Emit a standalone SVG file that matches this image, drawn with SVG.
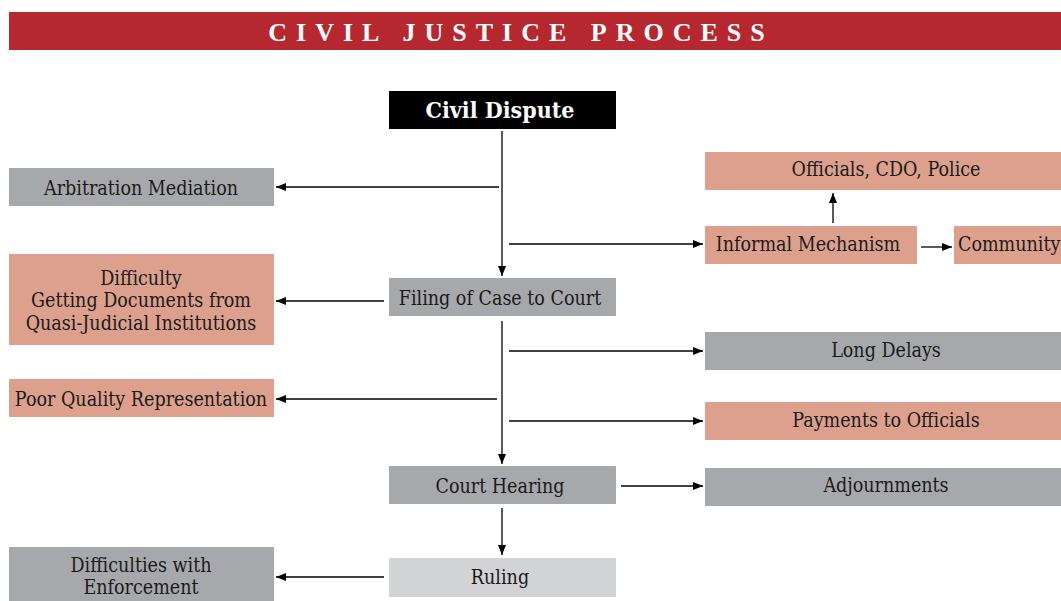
<svg xmlns="http://www.w3.org/2000/svg" width="1061" height="601" viewBox="0 0 1061 601">
  <defs>
    <marker id="arrow" viewBox="0 0 10 8" refX="10" refY="4" markerWidth="10" markerHeight="8" markerUnits="userSpaceOnUse" orient="auto">
      <path d="M0,0 L10,4 L0,8 Z" fill="#000"/>
    </marker>
    <style>
      .gray { fill: #a7a8ab; }
      .salmon { fill: #dda08d; }
      .light { fill: #d2d3d5; }
      .dark { fill: #000; }
      .lbl { font-family: "DejaVu Serif Condensed", "DejaVu Serif", "Liberation Serif", serif; font-stretch: condensed; font-size: 19.5px; fill: #1a1a1a; text-anchor: middle; }
      .conn line { stroke: #000; stroke-width: 1.3; marker-end: url(#arrow); }
    </style>
  </defs>

  <rect width="1061" height="601" fill="#fff"/>

  <!-- title banner -->
  <g id="title">
    <rect x="9" y="12" width="1052" height="38" fill="#b5282f"/>
    <text x="521" y="41" font-family="Liberation Serif, serif" font-size="26" font-weight="bold" fill="#fff" text-anchor="middle" letter-spacing="9">CIVIL JUSTICE PROCESS</text>
  </g>

  <!-- main chain -->
  <g id="civil-dispute">
    <rect class="dark" x="389" y="91" width="227" height="38"/>
    <text x="500" y="118" font-family="DejaVu Serif Condensed, DejaVu Serif, serif" font-stretch="condensed" font-size="23" font-weight="bold" fill="#fff" text-anchor="middle">Civil Dispute</text>
  </g>
  <g id="filing">
    <rect class="gray" x="389" y="278" width="227" height="38"/>
    <text class="lbl" x="500" y="305">Filing of Case to Court</text>
  </g>
  <g id="court-hearing">
    <rect class="gray" x="389" y="466" width="227" height="38"/>
    <text class="lbl" x="500" y="493">Court Hearing</text>
  </g>
  <g id="ruling">
    <rect class="light" x="389" y="558" width="227" height="39"/>
    <text class="lbl" x="500" y="584">Ruling</text>
  </g>

  <!-- left side -->
  <g id="arbitration">
    <rect class="gray" x="9" y="168" width="265" height="38"/>
    <text class="lbl" x="141" y="195">Arbitration Mediation</text>
  </g>
  <g id="difficulty-documents">
    <rect class="salmon" x="9" y="254" width="265" height="91"/>
    <text class="lbl" x="141" y="284.5">Difficulty</text>
    <text class="lbl" x="141" y="307">Getting Documents from</text>
    <text class="lbl" x="141" y="329.5">Quasi-Judicial Institutions</text>
  </g>
  <g id="poor-quality">
    <rect class="salmon" x="9" y="379" width="265" height="38"/>
    <text class="lbl" x="141" y="406">Poor Quality Representation</text>
  </g>
  <g id="enforcement">
    <rect class="gray" x="9" y="547" width="265" height="54"/>
    <text class="lbl" x="141" y="572">Difficulties with</text>
    <text class="lbl" x="141" y="594">Enforcement</text>
  </g>

  <!-- right side -->
  <g id="officials">
    <rect class="salmon" x="705" y="152" width="356" height="38"/>
    <text class="lbl" x="886" y="176">Officials, CDO, Police</text>
  </g>
  <g id="informal">
    <rect class="salmon" x="705" y="226" width="212" height="38"/>
    <text class="lbl" x="808" y="251">Informal Mechanism</text>
  </g>
  <g id="community">
    <rect class="salmon" x="954" y="226" width="107" height="38"/>
    <text class="lbl" x="958" y="251" style="text-anchor:start">Community</text>
  </g>
  <g id="long-delays">
    <rect class="gray" x="705" y="332" width="356" height="38"/>
    <text class="lbl" x="886" y="357">Long Delays</text>
  </g>
  <g id="payments">
    <rect class="salmon" x="705" y="402" width="356" height="38"/>
    <text class="lbl" x="886" y="427">Payments to Officials</text>
  </g>
  <g id="adjournments">
    <rect class="gray" x="705" y="468" width="356" height="38"/>
    <text class="lbl" x="886" y="492">Adjournments</text>
  </g>

  <!-- connectors -->
  <g id="connectors" class="conn">
    <line x1="502" y1="131" x2="502" y2="276"/>
    <line x1="499" y1="187" x2="276" y2="187"/>
    <line x1="509" y1="244" x2="703" y2="244"/>
    <line x1="833" y1="223" x2="833" y2="193"/>
    <line x1="921" y1="247" x2="952" y2="247"/>
    <line x1="384" y1="301" x2="276" y2="301"/>
    <line x1="502" y1="321" x2="502" y2="464"/>
    <line x1="509" y1="351" x2="703" y2="351"/>
    <line x1="497" y1="399" x2="276" y2="399"/>
    <line x1="509" y1="421" x2="703" y2="421"/>
    <line x1="621" y1="486" x2="703" y2="486"/>
    <line x1="502" y1="508" x2="502" y2="555"/>
    <line x1="384" y1="577" x2="276" y2="577"/>
  </g>
</svg>
